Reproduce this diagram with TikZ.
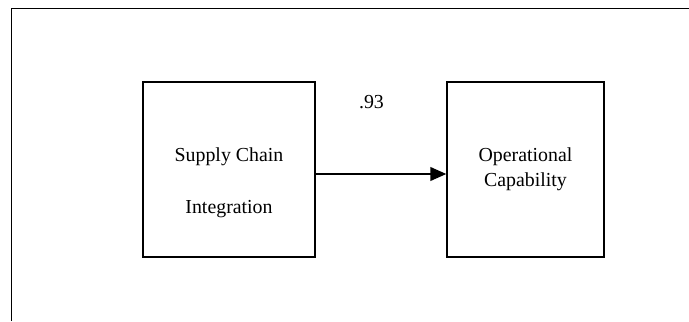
\documentclass[tikz,border=0pt]{standalone}
\usepackage{fontspec}
\setmainfont{Liberation Serif}
\usetikzlibrary{arrows.meta}
\tikzset{
    varbox/.style={draw,line width=0.85pt,minimum height=3.5cm,inner sep=0pt},
    vartext/.style={align=center,font=\fontsize{11.3}{14.2}\selectfont}
}
\begin{document}
\begin{tikzpicture}[x=0.02cm,y=-0.02cm]
    \useasboundingbox (0,0) rectangle (689,321);
    \draw[line width=1.1pt] (11.5,321) -- (11.5,8.5) -- (689,8.5);
    \node[varbox,minimum width=3.44cm] (sci) at (229,169.5) {};
    \node[vartext,font=\fontsize{11.3}{29.6}\selectfont] (scitext) at (229,183) {Supply Chain\\Integration};
    \node[varbox,vartext,minimum width=3.14cm] (oc) at (525.5,169.5) {Operational\\Capability};
    \node[vartext] (coef) at (371.5,102.5) {.93};
    \draw[line width=0.85pt,-{Triangle[length=9pt,width=7.8pt]}] ([yshift=-0.09cm]sci.east) -- ([yshift=-0.09cm]oc.west);
\end{tikzpicture}
\end{document}
